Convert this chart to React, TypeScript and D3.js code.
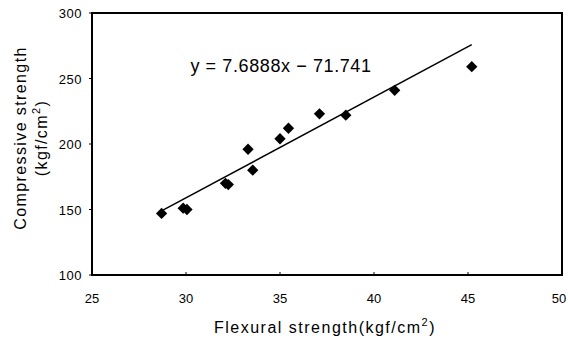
import React, { useEffect, useRef } from "react";
import * as d3 from "d3";

const flexural = [28.7, 29.85, 30.05, 32.1, 32.25, 33.3, 33.55, 35.0, 35.45, 37.1, 38.5, 41.1, 45.2];
const compressive = [147, 151, 150, 170, 169, 196, 180, 204, 212, 223, 222, 241, 259];
const xTicks = [25, 30, 35, 40, 45, 50];
const yTicks = [100, 150, 200, 250, 300];
const slope = 7.6888;
const intercept = -71.741;

const App = () => {
  const ref = useRef<SVGSVGElement>(null);

  useEffect(() => {
    const svg = d3.select(ref.current);
    svg.selectAll("*").remove();

    const left = 92, right = 562, top = 13, bottom = 275;
    const font = "Arial, 'Liberation Sans', sans-serif";

    const x = d3.scaleLinear().domain([25, 50]).range([left, right]);
    const y = d3.scaleLinear().domain([100, 300]).range([bottom, top]);

    // frame
    svg.append("rect")
      .attr("x", left).attr("y", top)
      .attr("width", right - left).attr("height", bottom - top)
      .attr("fill", "none").attr("stroke", "#000").attr("stroke-width", 2);

    // y ticks
    svg.append("g").selectAll("text")
      .data(yTicks).enter().append("text")
      .attr("x", left - 10).attr("y", d => y(d) + 5)
      .attr("text-anchor", "end")
      .style("font-family", font).style("font-size", "13px")
      .style("letter-spacing", "0.5px")
      .text(d => d);
    svg.append("g").selectAll("line")
      .data(yTicks).enter().append("line")
      .attr("x1", left - 3).attr("x2", left)
      .attr("y1", d => y(d)).attr("y2", d => y(d))
      .attr("stroke", "#000");

    // x ticks (last label nudged so it stays inside the page)
    svg.append("g").selectAll("text")
      .data(xTicks).enter().append("text")
      .attr("x", d => Math.min(x(d), 559)).attr("y", bottom + 28)
      .attr("text-anchor", "middle")
      .style("font-family", font).style("font-size", "13px")
      .text(d => d);
    svg.append("g").selectAll("line")
      .data(xTicks).enter().append("line")
      .attr("x1", d => x(d)).attr("x2", d => x(d))
      .attr("y1", bottom).attr("y2", bottom - 3)
      .attr("stroke", "#000");

    // trendline
    const [xmin, xmax] = d3.extent(flexural) as [number, number];
    svg.append("path")
      .datum([xmin, xmax])
      .attr("fill", "none").attr("stroke", "#000").attr("stroke-width", 1.5)
      .attr("d", d3.line<number>()
        .x(d => x(d))
        .y(d => y(slope * d + intercept)));

    // points
    const diamond = d3.symbol().type(d3.symbolSquare).size(64)();
    svg.append("g").selectAll("path")
      .data(flexural).enter().append("path")
      .attr("d", diamond)
      .attr("transform", (d, i) => "translate(" + x(d) + "," + y(compressive[i]) + ") rotate(45)")
      .attr("fill", "#000");

    // equation
    svg.append("text")
      .attr("x", 281).attr("y", 72)
      .attr("text-anchor", "middle")
      .style("font-family", font).style("font-size", "18px")
      .style("letter-spacing", "0.6px")
      .text("y = 7.6888x − 71.741");

    // x axis label
    const xl = svg.append("text")
      .attr("x", 325).attr("y", 333)
      .attr("text-anchor", "middle")
      .style("font-family", font).style("font-size", "16px")
      .style("letter-spacing", "1.5px");
    xl.append("tspan").text("Flexural strength(kgf/cm");
    xl.append("tspan").attr("dy", -7).style("font-size", "11px").text("2");
    xl.append("tspan").attr("dy", 7).text(")");

    // y axis label
    svg.append("text")
      .attr("transform", "translate(26,138) rotate(-90)")
      .attr("text-anchor", "middle")
      .style("font-family", font).style("font-size", "16px")
      .style("letter-spacing", "1.4px")
      .text("Compressive strength");
    const yl = svg.append("text")
      .attr("transform", "translate(47,138) rotate(-90)")
      .attr("text-anchor", "middle")
      .style("font-family", font).style("font-size", "16px")
      .style("letter-spacing", "1.4px");
    yl.append("tspan").text("(kgf/cm");
    yl.append("tspan").attr("dy", -7).style("font-size", "11px").text("2");
    yl.append("tspan").attr("dy", 7).text(")");
  }, []);

  return (
    <svg ref={ref} width={568} height={343}
      style={{ position: "absolute", left: 0, top: 0, background: "#fff" }} />
  );
};

export default App;
